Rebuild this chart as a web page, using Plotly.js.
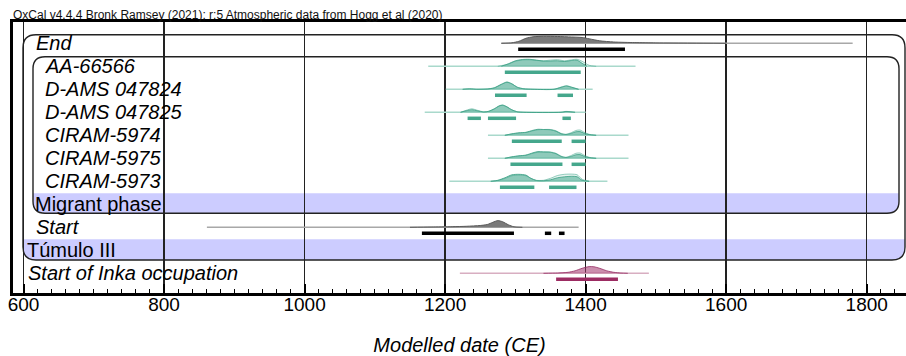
<!DOCTYPE html>
<html><head><meta charset="utf-8">
<script src="https://cdn.plot.ly/plotly-3.0.1.min.js"></script>
<style>html,body{margin:0;padding:0;background:#fff}#chart{width:906px;height:356px}</style>
</head><body><div id="chart"></div>
<script>
// ---------- DATA ----------
const rowLabels = ["End","AA-66566","D-AMS 047824","D-AMS 047825","CIRAM-5974","CIRAM-5975","CIRAM-5973","Migrant phase","Start","Túmulo III","Start of Inka occupation"];
const rowItalic = [true,true,true,true,true,true,true,false,true,false,true];
const tickVals = [600,800,1000,1200,1400,1600,1800];
const chartTitle = "OxCal v4.4.4 Bronk Ramsey (2021); r:5 Atmospheric data from Hogg et al (2020)";
const xTitle = "Modelled date (CE)";

// End boundary
const endPrior = [1280, 1780];
const endPostX = [1280,1295,1305,1315,1325,1340,1360,1380,1395,1405,1420,1440,1470,1500,1550,1600];
const endPostP = [0,0.5,2,5,6.5,7,6.8,6.3,5.8,4.5,2.5,1.3,0.7,0.4,0.2,0];
const endHpd = [[1304,1456]];

// AA-66566
const aaPrior = [1176, 1471];
const aaPostX = [1280,1290,1300,1310,1320,1330,1340,1350,1360,1370,1380,1388,1395,1402];
const aaPostP = [0,2.5,5.5,6.8,7,6.2,5.2,5.3,5.5,4.8,5.8,6,3,0];
const aaLikeX = [1275,1290,1300,1310,1320,1330,1340,1350,1360,1370,1380,1388,1395,1405,1415];
const aaLikeP = [0,2.2,5,6.3,6.5,5.8,5.5,6.2,6.6,5.5,6.5,7,5,1,0];
const aaHpd = [[1285,1393]];

// D-AMS 047824
const d24Prior = [1201, 1410];
const d24PostX = [1225,1235,1245,1260,1270,1280,1288,1295,1303,1312,1325,1355,1365,1373,1380,1390];
const d24PostP = [0,0.4,0,0.3,1.5,5,7.3,5.5,2,0.5,0,0,2,3.3,2,0];
const d24LikeX = [1225,1235,1245,1260,1270,1280,1288,1295,1303,1312,1325,1355,1365,1373,1380,1390];
const d24LikeP = [0,0.6,0,0.3,1.4,4.8,7,5.4,2,0.5,0,0,2.2,3.6,2.2,0];
const d24Hpd = [[1271,1316],[1360,1382]];

// D-AMS 047825
const d25Prior = [1171, 1400];
const d25PostX = [1222,1230,1238,1246,1255,1262,1270,1277,1282,1288,1295,1303,1312,1365,1372,1378,1385];
const d25PostP = [0,1.5,2.5,1.5,0.3,1,3.5,6.5,7.3,5.5,2.5,0.5,0,0,0.7,0.5,0];
const d25LikeX = [1222,1230,1238,1246,1255,1262,1270,1277,1282,1288,1295,1303,1312,1365,1372,1378,1385];
const d25LikeP = [0,2,3.5,2,0.4,1,3.3,6.2,7,5.3,2.4,0.5,0,0,0.9,0.6,0];
const d25Hpd = [[1232,1251],[1261,1301],[1367,1379]];

// CIRAM-5974
const c74Prior = [1261, 1461];
const c74PostX = [1285,1295,1305,1315,1325,1332,1340,1350,1358,1365,1372,1380,1386,1392,1398,1405,1415];
const c74PostP = [0,1.5,2.5,3,5,6,5.8,5.5,4,1.5,0.8,2,3.5,3.7,2,0.7,0];
const c74LikeP = [0,1.3,2.3,2.8,4.5,5.5,5.8,5.8,4.5,2,1,2.8,4.8,5.3,3,1,0];
const c74Hpd = [[1295,1366],[1380,1400]];

// CIRAM-5975
const c75Prior = [1261, 1461];
const c75PostX = [1285,1295,1305,1315,1325,1332,1340,1350,1358,1365,1372,1380,1386,1392,1398,1405,1415];
const c75PostP = [0,1.5,2.5,3.2,5.5,6.7,6.3,6,4.5,1.8,0.8,2,3.5,3.7,2,0.7,0];
const c75LikeP = [0,1.3,2.3,3,5,6,6.5,6.3,5,2.2,1,3,5,5.3,3,1,0];
const c75Hpd = [[1293,1367],[1380,1400]];

// CIRAM-5973
const c73Prior = [1206, 1431];
const c73PostX = [1265,1275,1285,1295,1305,1315,1322,1330,1340,1350,1360,1370,1380,1388,1395,1405];
const c73PostP = [0,1,3.5,6.5,7,6.2,3,0.8,0.5,1.5,3.5,4.5,5,4.5,1,0];
const c73LikeP = [0,0.8,2.8,5.5,6.2,5.5,3,1,1,3,5.8,7,7.2,6.5,2,0];
const c73Hpd = [[1278,1327],[1348,1387]];

// Start boundary
const stPrior = [861, 1390];
const stPostX = [1150,1180,1210,1230,1250,1260,1268,1275,1282,1290,1298,1310];
const stPostP = [0,0.3,0.6,1,1.8,2.8,5,6.7,5.5,2.5,0.5,0];
const stHpd = [[1167,1298],[1342,1351],[1362,1370]];

// Start of Inka occupation
const inPrior = [1221, 1490];
const inPostX = [1340,1360,1375,1385,1395,1405,1412,1420,1430,1440,1450,1460];
const inPostP = [0,0.3,1,2.5,5,6.7,6.5,5,2.5,1,0.3,0];
const inHpd = [[1358,1446]];

// ---------- STYLE / GEOMETRY ----------
const W = 906, H = 356;
const mL = 13, mT = 22, mB = 63;
const plotW = W - mL, plotH = H - mT - mB;
const k = 843.2 / 1200;             // px per year
const xr0 = 600 - (23.5 - mL) / k;
const xr1 = xr0 + plotW / k;
const rowPx = 23;
const firstRowPx = 43.3;
const yTop = -(firstRowPx - mT) / rowPx;
const yBot = yTop + plotH / rowPx;
const px2x = px => xr0 + (px - mL) / k;
const py2y = py => yTop + (py - mT) / rowPx;
const hScale = 1 / rowPx;

const palettes = {
  teal:   {prior:'#a9d9cc', fill:'rgba(70,168,142,0.55)', line:'rgba(60,160,132,0.8)', likeFill:'rgba(70,168,142,0.13)', likeLine:'rgba(70,168,142,0.55)', hpd:'#45a78c'},
  gray:   {prior:'#a8a8a8', fill:'#7a7a7a', line:'#5a5a5a', likeFill:'rgba(0,0,0,0)', likeLine:'rgba(0,0,0,0)', hpd:'#000000'},
  maroon: {prior:'#d8aec1', fill:'rgba(160,50,105,0.55)', line:'rgba(150,45,100,0.8)', likeFill:'rgba(0,0,0,0)', likeLine:'rgba(0,0,0,0)', hpd:'#9c2c62'}
};

const dists = [
  {row:0, prior:endPrior, px:endPostX, pp:endPostP, hpd:endHpd, pal:'gray'},
  {row:1, prior:aaPrior, px:aaPostX, pp:aaPostP, lx:aaLikeX, lp:aaLikeP, hpd:aaHpd, pal:'teal'},
  {row:2, prior:d24Prior, px:d24PostX, pp:d24PostP, lx:d24LikeX, lp:d24LikeP, hpd:d24Hpd, pal:'teal'},
  {row:3, prior:d25Prior, px:d25PostX, pp:d25PostP, lx:d25LikeX, lp:d25LikeP, hpd:d25Hpd, pal:'teal'},
  {row:4, prior:c74Prior, px:c74PostX, pp:c74PostP, lx:c74PostX, lp:c74LikeP, hpd:c74Hpd, pal:'teal'},
  {row:5, prior:c75Prior, px:c75PostX, pp:c75PostP, lx:c75PostX, lp:c75LikeP, hpd:c75Hpd, pal:'teal'},
  {row:6, prior:c73Prior, px:c73PostX, pp:c73PostP, lx:c73PostX, lp:c73LikeP, hpd:c73Hpd, pal:'teal'},
  {row:8, prior:stPrior, px:stPostX, pp:stPostP, hpd:stHpd, pal:'gray'},
  {row:10, prior:inPrior, px:inPostX, pp:inPostP, hpd:inHpd, pal:'maroon'}
];

const traces = [];
const hpdOffset = 6 / rowPx;
dists.forEach(d => {
  const c = palettes[d.pal];
  traces.push({x:d.prior, y:[d.row,d.row], mode:'lines', line:{color:c.prior, width:1.5}, hoverinfo:'skip'});
  if (d.lx) {
    traces.push({x:d.lx, y:d.lp.map(v => d.row - v*hScale), mode:'lines', fill:'toself', fillcolor:c.likeFill,
      line:{color:c.likeLine, width:1, shape:'spline', smoothing:0.7}, hoverinfo:'skip'});
  }
  traces.push({x:d.px, y:d.pp.map(v => d.row - v*hScale), mode:'lines', fill:'toself', fillcolor:c.fill,
    line:{color:c.line, width:1, shape:'spline', smoothing:0.7}, hoverinfo:'skip'});
  d.hpd.forEach(r => {
    traces.push({x:r, y:[d.row + hpdOffset, d.row + hpdOffset], mode:'lines', line:{color:c.hpd, width:3.5}, hoverinfo:'skip'});
  });
});

// rounded box path helpers (pixel geometry -> axis coordinates)
function P(px, py){ return px2x(px).toFixed(3) + ',' + py2y(py).toFixed(4); }
function roundBox(x0,y0,x1,y1,r){
  return 'M'+P(x0+r,y0)+' L'+P(x1-r,y0)+' Q'+P(x1,y0)+' '+P(x1,y0+r)+' L'+P(x1,y1-r)+' Q'+P(x1,y1)+' '+P(x1-r,y1)+
         ' L'+P(x0+r,y1)+' Q'+P(x0,y1)+' '+P(x0,y1-r)+' L'+P(x0,y0+r)+' Q'+P(x0,y0)+' '+P(x0+r,y0)+' Z';
}
function bandBottomRound(x0,y0,x1,y1,r){
  return 'M'+P(x0,y0)+' L'+P(x1,y0)+' L'+P(x1,y1-r)+' Q'+P(x1,y1)+' '+P(x1-r,y1)+
         ' L'+P(x0+r,y1)+' Q'+P(x0,y1)+' '+P(x0,y1-r)+' Z';
}
const band = '#ccccff';
const shapes = [
  {type:'path', path:bandBottomRound(33,193.3,899,213.3,12), fillcolor:band, line:{width:0}, layer:'below'},
  {type:'path', path:bandBottomRound(23,239.3,905,260,13), fillcolor:band, line:{width:0}, layer:'below'},
  {type:'path', path:roundBox(23,34.7,905,260,13), line:{color:'#222', width:1.4}, layer:'above'},
  {type:'path', path:roundBox(33,56.7,899,213.3,12), line:{color:'#222', width:1.4}, layer:'above'}
];

const labelPx = [34,43,43,43,43,43,43,33,34,24.5,26];
const annotations = rowLabels.map((t,i) => ({
  x: px2x(labelPx[i]), y: i, xref:'x', yref:'y', xanchor:'left', yanchor:'middle',
  text: rowItalic[i] ? '<i>'+t+'</i>' : t, showarrow:false,
  font:{family:'"Liberation Sans", Arial, sans-serif', size:20, color:'#000'}
}));

const layout = {
  width:W, height:H,
  margin:{l:mL, r:0, t:mT, b:mB, pad:0},
  paper_bgcolor:'#fff', plot_bgcolor:'#fff',
  showlegend:false,
  title:{text:chartTitle, font:{family:'"Liberation Sans", Arial, sans-serif', size:12, color:'#111'},
    xref:'container', yref:'container', x:13/W, xanchor:'left', y:1-15/H, yanchor:'middle', pad:{t:0,b:0,l:0,r:0}},
  xaxis:{range:[xr0,xr1], tickvals:tickVals, ticktext:tickVals.map(String), ticks:'inside', ticklen:9, tickwidth:2, tickcolor:'#000',
    minor:{dtick:20, tick0:0, ticks:'inside', ticklen:4, tickwidth:1, tickcolor:'#000', showgrid:false},
    showgrid:true, gridcolor:'#222', gridwidth:1.5, zeroline:false,
    showline:true, linecolor:'#000', linewidth:3, mirror:true,
    tickfont:{family:'"Liberation Sans", Arial, sans-serif', size:19, color:'#000'},
    ticklabelstandoff:-8,
    title:{text:'<i>'+xTitle+'</i>', font:{family:'"Liberation Sans", Arial, sans-serif', size:20, color:'#000'}, standoff:28},
    fixedrange:true, automargin:false},
  yaxis:{range:[yBot,yTop], showgrid:false, zeroline:false, showticklabels:false, ticks:'',
    showline:true, linecolor:'#000', linewidth:3, fixedrange:true, automargin:false},
  shapes:shapes,
  annotations:annotations
};

Plotly.newPlot('chart', traces, layout, {staticPlot:true, displayModeBar:false});
</script></body></html>
